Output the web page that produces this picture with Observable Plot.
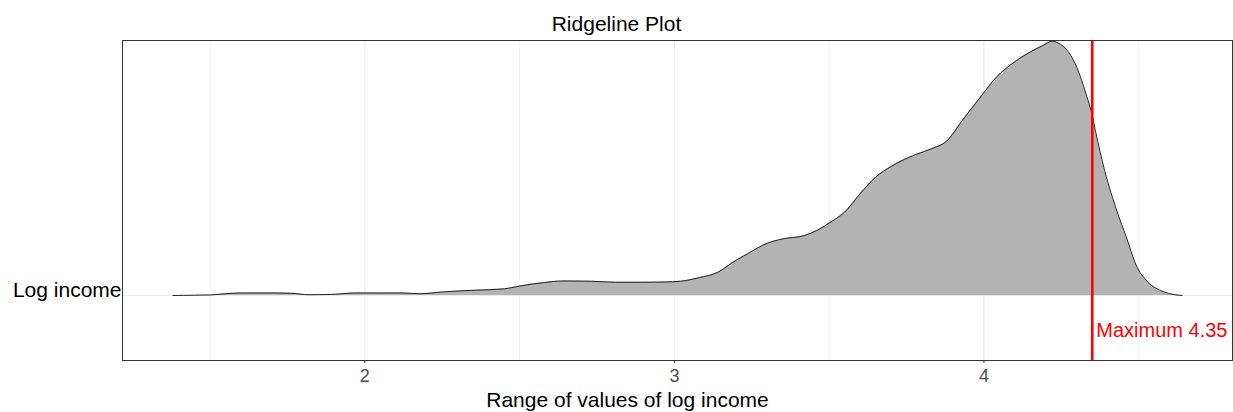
<!DOCTYPE html>
<html>
<head>
<meta charset="utf-8">
<script src="https://cdn.jsdelivr.net/npm/d3@7"></script>
<script src="https://cdn.jsdelivr.net/npm/@observablehq/plot@0.6"></script>
<style>
  html, body { margin: 0; padding: 0; background: #fff; }
  #chart svg { display: block; }
</style>
</head>
<body>
<div id="chart"></div>
<script>
// Log income values (x) and relative density height (peak = 1)
const logIncome = [1.38, 1.45, 1.50, 1.55, 1.60, 1.70, 1.76, 1.82, 1.89, 1.97, 2.05, 2.12, 2.18, 2.25, 2.36, 2.45, 2.50, 2.58, 2.64, 2.73, 2.81, 2.90, 2.97, 3.02, 3.08, 3.14, 3.19, 3.24, 3.30, 3.35, 3.42, 3.46, 3.50, 3.55, 3.60, 3.65, 3.70, 3.74, 3.78, 3.83, 3.88, 3.93, 3.99, 4.04, 4.09, 4.15, 4.19, 4.22, 4.24, 4.27, 4.30, 4.33, 4.35, 4.36, 4.39, 4.43, 4.46, 4.49, 4.53, 4.57, 4.60, 4.64];
const density = [0.000, 0.001, 0.002, 0.007, 0.010, 0.010, 0.009, 0.003, 0.004, 0.010, 0.010, 0.010, 0.007, 0.014, 0.021, 0.026, 0.037, 0.051, 0.057, 0.056, 0.052, 0.052, 0.053, 0.056, 0.070, 0.091, 0.131, 0.166, 0.205, 0.222, 0.235, 0.255, 0.284, 0.327, 0.399, 0.464, 0.506, 0.532, 0.553, 0.575, 0.606, 0.686, 0.780, 0.856, 0.908, 0.955, 0.980, 0.997, 0.990, 0.960, 0.895, 0.790, 0.705, 0.647, 0.490, 0.330, 0.229, 0.124, 0.052, 0.020, 0.007, 0.000];
const maximumValue = 4.35;
const maximumLabel = "Maximum 4.35";
const seriesName = "Log income";
const xTicks = [2, 3, 4];
const xTickLabels = ["2", "3", "4"];
const xMinorTicks = [1.5, 2.5, 3.5, 4.5];
const titleText = "Ridgeline Plot";
const xTitle = "Range of values of log income";

const data = logIncome.map((x, i) => ({x, d: density[i]}));
const font = "'Liberation Sans', Arial, Helvetica, sans-serif";

const chart = Plot.plot({
  width: 1233,
  height: 412,
  marginLeft: 122,
  marginRight: 1,
  marginTop: 40,
  marginBottom: 52,
  style: {fontFamily: font, background: "#fff"},
  x: {domain: [1.217, 4.803]},
  y: {domain: [-65 / 255, 1]},
  marks: [
    Plot.gridX(xMinorTicks, {stroke: "#ebebeb", strokeOpacity: 1, strokeWidth: 0.6}),
    Plot.gridX(xTicks, {stroke: "#ebebeb", strokeOpacity: 1, strokeWidth: 1.1}),
    Plot.gridY([0], {stroke: "#ebebeb", strokeOpacity: 1, strokeWidth: 1.1}),
    Plot.areaY(data, {x: "x", y: "d", fill: "#b3b3b3", curve: "monotone-x"}),
    Plot.lineY(data, {x: "x", y: "d", stroke: "#111", strokeWidth: 0.9, curve: "monotone-x"}),
    Plot.ruleX([maximumValue], {stroke: "#ff0000", strokeWidth: 2.6}),
    Plot.text([maximumValue], {x: d => d, y: -0.137, text: () => maximumLabel, textAnchor: "start", dx: 4, fill: "#ff0000", fontSize: 20}),
    Plot.frame({stroke: "#333", strokeWidth: 1}),
    Plot.axisX(xTicks, {tickSize: 3, tickPadding: 6, fontSize: 18, color: "#4d4d4d", stroke: "#333", tickFormat: (d, i) => xTickLabels[i], label: null}),
    Plot.axisY([0], {tickSize: 0, tickPadding: 1, fontSize: 21, fill: "#000", dy: -5, tickFormat: () => seriesName, label: null}),
    Plot.text([titleText], {frameAnchor: "top-left", dx: 494, dy: -10, lineAnchor: "bottom", textAnchor: "middle", fontSize: 21, fill: "#000"}),
    Plot.text([xTitle], {frameAnchor: "bottom-left", dx: 505, dy: 46, lineAnchor: "bottom", textAnchor: "middle", fontSize: 21, fill: "#000"})
  ]
});
document.getElementById("chart").appendChild(chart);
</script>
</body>
</html>
